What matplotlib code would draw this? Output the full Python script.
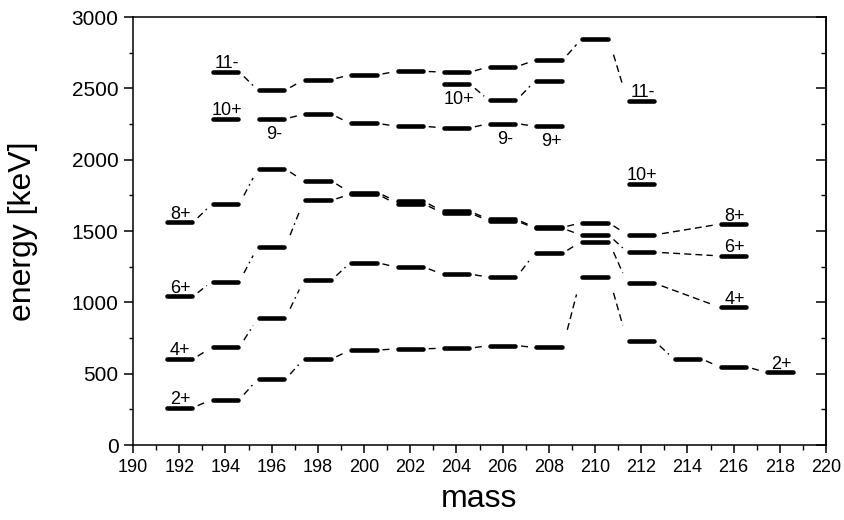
"""
Level energies of even polonium isotopes vs mass number
"""

import numpy as np
import matplotlib.pyplot as plt
from matplotlib.ticker import MultipleLocator

plt.rcParams['font.family'] = ['Liberation Sans', 'DejaVu Sans']

# level energies [keV] per mass number
mass_2p = [192, 194, 196, 198, 200, 202, 204, 206, 208, 210, 212, 214, 216, 218]
e_2p = [262, 318, 462, 603, 666, 674, 679, 697, 684, 1180, 726, 605, 547, 509]

mass_4p = [192, 194, 196, 198, 200, 202, 204, 206, 208, 210, 212, 216]
e_4p = [603, 684, 889, 1157, 1278, 1247, 1198, 1177, 1345, 1426, 1133, 966]

mass_6p = [192, 194, 196, 198, 200, 202, 204, 206, 208, 210, 212, 216]
e_6p = [1042, 1144, 1390, 1716, 1758, 1690, 1626, 1572, 1520, 1471, 1352, 1326]

mass_8p = [192, 194, 196, 198, 200, 202, 204, 206, 208, 210, 212, 216]
e_8p = [1561, 1688, 1935, 1851, 1770, 1708, 1638, 1582, 1526, 1558, 1474, 1549]

mass_11m = [194, 196, 198, 200, 202, 204, 206, 208, 210, 212]
e_11m = [2616, 2488, 2562, 2596, 2620, 2615, 2652, 2698, 2845, 2414]

mass_9m = [196, 198, 200, 202, 204, 206, 208]
e_9m = [2288, 2319, 2255, 2235, 2224, 2254, 2235]

mass_10p = [204, 206, 208]
e_10p = [2529, 2418, 2552]

# levels drawn without connecting lines
single_mass = [194, 212]
single_e = [2288, 1833]

# spin labels above / below the levels
above_mass = [192, 192, 192, 192, 194, 194, 212, 212, 216, 216, 216, 218]
above_e = [262, 603, 1042, 1561, 2616, 2288, 2414, 1833, 1549, 1326, 966, 509]
above_text = ['2+', '4+', '6+', '8+', '11-', '10+', '11-', '10+', '8+', '6+', '4+', '2+']

below_mass = [196, 204, 206, 208]
below_e = [2288, 2529, 2254, 2235]
below_text = ['9-', '10+', '9-', '9+']

chains = [(mass_2p, e_2p), (mass_4p, e_4p), (mass_6p, e_6p), (mass_8p, e_8p),
          (mass_11m, e_11m), (mass_9m, e_9m), (mass_10p, e_10p)]

fig = plt.figure(figsize=(8.44, 5.20), dpi=100)
ax = fig.add_axes([0.1576, 0.1442, 0.8211, 0.8228])
ax.set_xlim(190, 220)
ax.set_ylim(0, 3000)

half = 0.55
for m, e in chains + [(single_mass, single_e)]:
    m = np.array(m)
    lc = ax.hlines(e, m - half, m + half, colors='black', linewidth=3.3)
    lc.set_capstyle('round')

# connecting lines between neighbouring isotopes, trimmed near the bars
for m, e in chains:
    for i in range(len(m) - 1):
        p0 = ax.transData.transform((m[i] + 0.6, e[i]))
        p1 = ax.transData.transform((m[i + 1] - 0.6, e[i + 1]))
        dx, dy = np.abs(p1 - p0)
        length = np.hypot(dx, dy)
        if dy > dx:
            f0 = 0.25
        else:
            f0 = min(0.25 * length, 7) / length
        f1 = 1 - f0
        span = m[i + 1] - m[i] - 1.2
        xs = [m[i] + 0.6 + f0 * span, m[i] + 0.6 + f1 * span]
        ys = [e[i] + f0 * (e[i + 1] - e[i]), e[i] + f1 * (e[i + 1] - e[i])]
        if m[i] >= 208:
            ls = (0, (5, 3))
        else:
            ls = (0, (5, 3, 1.2, 3))
        ax.plot(xs, ys, color='black', linewidth=1.0, linestyle=ls)

for m, e, t in zip(above_mass, above_e, above_text):
    ax.text(m + 0.05, e + 25, t, ha='center', va='baseline', fontsize=13)
for m, e, t in zip(below_mass, below_e, below_text):
    ax.text(m + 0.1, e - 50, t, ha='center', va='top', fontsize=13)

ax.xaxis.set_major_locator(MultipleLocator(2))
ax.xaxis.set_minor_locator(MultipleLocator(1))
ax.yaxis.set_major_locator(MultipleLocator(500))
ax.yaxis.set_minor_locator(MultipleLocator(250))

ax.tick_params(axis='x', which='major', direction='out', length=6, width=1.1, labelsize=13, pad=4)
ax.tick_params(axis='x', which='minor', direction='out', length=3.5, width=1.0)
ax.tick_params(axis='y', which='major', direction='out', length=6.5, width=1.1, labelsize=15, pad=4)
ax.tick_params(axis='y', which='minor', direction='out', length=3, width=1.0)

sec = ax.secondary_yaxis('right')
sec.yaxis.set_major_locator(MultipleLocator(500))
sec.yaxis.set_minor_locator(MultipleLocator(250))
sec.tick_params(which='major', direction='in', length=7, width=1.1, labelright=False)
sec.tick_params(which='minor', direction='in', length=3.5, width=1.0)
sec.spines['right'].set_linewidth(1.1)

for s in ax.spines.values():
    s.set_linewidth(1.1)

ax.set_xlabel('mass', fontsize=23)
ax.set_ylabel('energy [keV]', fontsize=23)
ax.xaxis.set_label_coords(0.5, -0.09)
ax.yaxis.set_label_coords(-0.137, 0.5)

plt.savefig('out.png', dpi=100)
